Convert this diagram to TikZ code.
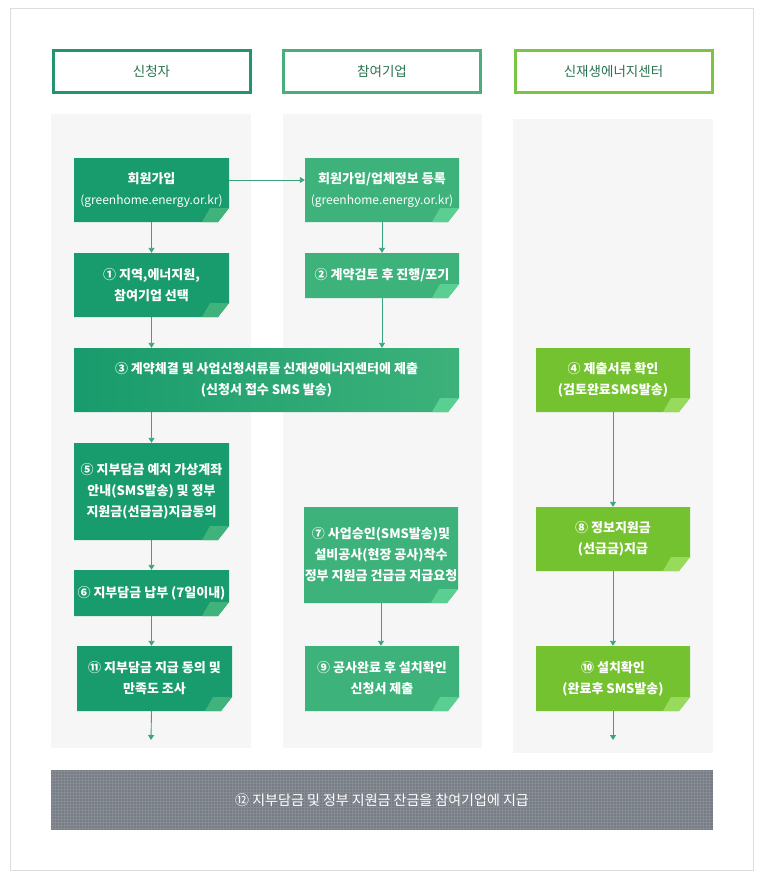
\documentclass[tikz,border=0pt]{standalone}
\usepackage{fontspec}
\newfontfamily\kr{Noto Sans CJK KR}
\usetikzlibrary{arrows.meta}
\definecolor{framec}{HTML}{DDDDDD}
\definecolor{colbg}{HTML}{F6F6F6}
\definecolor{hA}{HTML}{23946C}
\definecolor{hB}{HTML}{47AE7C}
\definecolor{hC}{HTML}{7CC443}
\definecolor{htext}{HTML}{2A7350}
\definecolor{bA}{HTML}{189B6D}
\definecolor{bB}{HTML}{3DB27A}
\definecolor{bC}{HTML}{74C22F}
\definecolor{fA}{HTML}{3FB37B}
\definecolor{fB}{HTML}{5BCF91}
\definecolor{fC}{HTML}{98DA5C}
\definecolor{arrc}{HTML}{3AA57A}
\definecolor{barc}{HTML}{767C84}
\definecolor{gridc}{HTML}{878C94}
\newcommand\gbox[8]{%
  \path[#6] (#2,#3) -- (#4,#3) -- (#4,#5-14) -- (#4-11,#5) -- (#2,#5) -- cycle;
  \fill[#7] (#4-19,#5-14) -- (#4,#5-14) -- (#4-11,#5) -- (#4-27,#5) -- cycle;
  \node[boxtext, minimum width={#4pt-#2pt}, minimum height={#5pt-#3pt}] (#1) at ({(#2+#4)/2},{(#3+#5)/2}) {#8};
}
\newcommand\urltext{{\mdseries\fontsize{12}{21}\selectfont(greenhome.energy.or.kr)}}
\begin{document}
\begin{tikzpicture}[x=1pt,y=-1pt,
  hdr/.style={line width=3pt, fill=white, minimum width=197pt, minimum height=42pt, inner sep=0pt, text=htext, font=\kr\fontsize{13.5}{16}\selectfont},
  boxtext/.style={inner sep=0pt, text=white, align=center, font=\kr\bfseries\fontsize{13}{21}\selectfont},
  arr/.style={draw=arrc, line width=0.9pt, -{Triangle[width=6pt,length=5pt]}}]
\useasboundingbox (0,0) rectangle (764,878);
\fill[white] (0,0) rectangle (764,878);
\draw[framec, line width=1pt] (10.5,8.5) rectangle (753.5,870.5);
% headers
\node[hdr, draw=hA] (h1) at (151.5,71.5) {신청자};
\node[hdr, draw=hB] (h2) at (382,71.5) {참여기업};
\node[hdr, draw=hC] (h3) at (613.5,71.5) {신재생에너지센터};
% column backgrounds
\fill[colbg] (51,114) rectangle (251,748);
\fill[colbg] (283,114) rectangle (482,748);
\fill[colbg] (513,119) rectangle (713,753);
% boxes
\gbox{reg1}{74}{158}{229}{222}{fill=bA}{fA}{회원가입\\\urltext}
\gbox{s1}{74}{253}{229}{317}{fill=bA}{fA}{① 지역,에너지원,\\참여기업 선택}
\gbox{s3}{74}{348}{459}{412}{left color=bA,right color=bB}{fB}{③ 계약체결 및 사업신청서류들 신재생에너지센터에 제출\\(신청서 접수 SMS 발송)}
\gbox{s5}{74}{443}{229}{540}{fill=bA}{fA}{⑤ 지부담금 예치 가상계좌\\안내(SMS발송) 및 정부\\지원금(선급금)지급동의}
\gbox{s6}{74}{570}{229}{616}{fill=bA}{fA}{⑥ 지부담금 납부 (7일이내)}
\gbox{s11}{77}{646}{232}{711}{fill=bA}{fA}{⑪ 지부담금 지급 동의 및\\만족도 조사}
\gbox{reg2}{305}{158}{459}{222}{fill=bB}{fB}{회원가입/업체정보 등록\\\urltext}
\gbox{s2}{305}{253}{459}{298}{fill=bB}{fB}{② 계약검토 후 진행/포기}
\gbox{s7}{304}{507}{458}{603}{fill=bB}{fB}{⑦ 사업승인(SMS발송)및\\설비공사(현장 공사)착수\\정부 지원금 건급금 지급요청}
\gbox{s9}{305}{646}{459}{711}{fill=bB}{fB}{⑨ 공사완료 후 설치확인\\신청서 제출}
\gbox{s4}{536}{348}{690}{412}{fill=bC}{fC}{④ 제출서류 확인\\(검토완료SMS발송)}
\gbox{s8}{536}{507}{690}{571}{fill=bC}{fC}{⑧ 정보지원금\\(선급금)지급}
\gbox{s10}{536}{646}{690}{711}{fill=bC}{fC}{⑩ 설치확인\\(완료후 SMS발송)}
% bottom bar
\fill[barc] (51,770) rectangle (713,830);
\foreach \x in {52.5,55.5,...,712} \draw[gridc, line width=0.8pt] (\x,770) -- (\x,830);
\foreach \y in {771.5,774.5,...,829} \draw[gridc, line width=0.8pt] (51,\y) -- (713,\y);
\node[inner sep=0pt, text=white, font=\kr\fontsize{14}{16}\selectfont] (s12) at (382,800) {⑫ 지부담금 및 정부 지원금 잔금을 참여기업에 지급};
% free ends
\coordinate (e1) at (151,740);
\coordinate (e3) at (613,740);
% connectors
\draw[arr] ([yshift=10pt]reg1.east) -- ([yshift=10pt]reg2.west);
\draw[arr] (reg1.south) -- (s1.north);
\draw[arr] (reg2.south) -- (s2.north);
\draw[arr] (s1.south) -- (s1.south |- s3.north);
\draw[arr] (s2.south) -- (s2.south |- s3.north);
\draw[arr] (s5.north |- s3.south) -- (s5.north);
\draw[arr] (s5.south) -- (s6.north);
\draw[arr] (s6.south) -- (s6.south |- s11.north);
\draw[arr] (s6.south |- s11.south) -- (e1);
\draw[arr] (s7.south) -- (s7.south |- s9.north);
\draw[arr] (s4.south) -- (s8.north);
\draw[arr] (s8.south) -- (s10.north);
\draw[arr] (s10.south) -- (e3);
\end{tikzpicture}
\end{document}
